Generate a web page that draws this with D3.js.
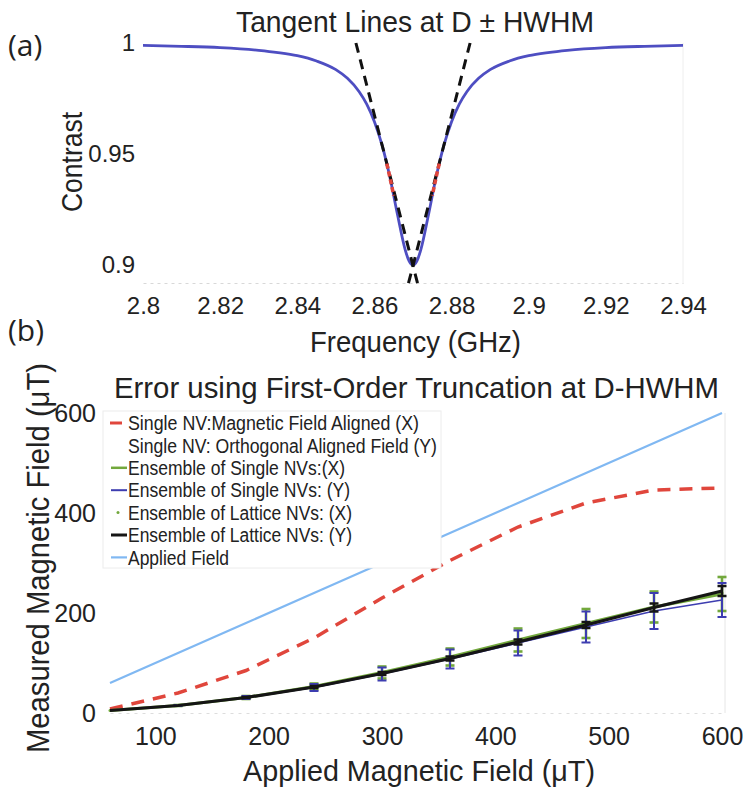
<!DOCTYPE html>
<html>
<head>
<meta charset="utf-8">
<script src="https://cdn.jsdelivr.net/npm/d3@7"></script>
<style>
  body { margin: 0; background: #fff; }
  svg text { font-family: "Liberation Sans", Arial, sans-serif; fill: #222; }
</style>
</head>
<body>
<div id="chart"></div>
<script>
// panel (a): resonance dip
var freq = [2.80, 2.81, 2.82, 2.83, 2.835, 2.84, 2.845, 2.85, 2.853, 2.856, 2.858, 2.86, 2.862, 2.864, 2.866, 2.868, 2.869, 2.87,
            2.871, 2.872, 2.874, 2.876, 2.878, 2.88, 2.882, 2.884, 2.887, 2.89, 2.895, 2.9, 2.905, 2.91, 2.92, 2.93, 2.94]
var contrast = [0.9989, 0.9985, 0.9979, 0.9967, 0.9957, 0.9943, 0.9919, 0.9880, 0.9841, 0.9782, 0.9725, 0.9646, 0.9539, 0.9397, 0.9226, 0.9068, 0.9018, 0.9000,
                0.9018, 0.9068, 0.9226, 0.9397, 0.9539, 0.9646, 0.9725, 0.9782, 0.9841, 0.9880, 0.9919, 0.9943, 0.9957, 0.9967, 0.9979, 0.9985, 0.9989]
// tangent lines at D - HWHM and D + HWHM (end points)
var tanLeft = [[2.8552, 1.0], [2.8716, 0.889]]
var tanRight = [[2.8848, 1.0], [2.8684, 0.889]]
// red marks where the tangents touch
var touchLeft = [[2.8632, 0.9457], [2.8638, 0.9412], [2.8644, 0.9364], [2.865, 0.9313]]
var touchRight = [[2.8768, 0.9457], [2.8762, 0.9412], [2.8756, 0.9364], [2.875, 0.9313]]
var freqTicks = [2.8, 2.82, 2.84, 2.86, 2.88, 2.9, 2.92, 2.94]
var contrastTicks = [0.9, 0.95, 1]

// panel (b): measured vs applied field
var applied = [60, 120, 180, 240, 300, 360, 420, 480, 540, 600]
var singleX = [8, 40, 85, 150, 230, 305, 372, 420, 446, 450]
var ensSingleX = [5, 15, 31, 53, 81, 112, 146, 179, 212, 238]
var ensSingleY = [5, 15, 31, 51, 78, 108, 140, 172, 204, 226]
var ensLatticeX = [5, 15, 31, 52, 80, 110, 143, 177, 210, 240]
var ensLatticeY = [5, 15, 31, 52, 79, 109, 142, 176, 211, 244]
var errSingleX = [0, 1, 3, 6, 12, 17, 23, 29, 31, 34]
var errSingleY = [0, 1, 3, 7, 13, 19, 25, 31, 36, 34]
var errLatticeY = [0, 0, 1, 2, 3, 4, 5, 6, 8, 10]
var fieldTicks = [100, 200, 300, 400, 500, 600]
var measTicks = [0, 200, 400, 600]
var legendLabels = ['Single NV:Magnetic Field Aligned (X)', 'Single NV: Orthogonal Aligned Field (Y)',
  'Ensemble of Single NVs:(X)', 'Ensemble of Single NVs: (Y)', 'Ensemble of Lattice NVs: (X)',
  'Ensemble of Lattice NVs: (Y)', 'Applied Field']
var legendWidths = [291, 309, 217, 222, 224, 224, 101]

var W = 743, H = 789
var svg = d3.select('#chart').append('svg').attr('width', W).attr('height', H)

var colors = {dip: '#4e4ec2', red: '#e0463c', green: '#72a83c', blue: '#3d3db0', black: '#151515', sky: '#80b8f2'}

// squeeze a label to the width it has in the figure
function label(g, txt, size, len) {
  return g.append('text').style('font-size', size + 'px')
    .attr('textLength', len).attr('lengthAdjust', 'spacingAndGlyphs').text(txt)
}

// ---------- panel (a)
var xA = d3.scaleLinear().domain([2.8, 2.94]).range([143, 683])
var yA = d3.scaleLinear().domain([0.892, 1.0]).range([283, 43])

var gA = svg.append('g')
gA.append('g').attr('transform', 'translate(0,283)')
  .call(d3.axisBottom(xA).tickValues(freqTicks).tickSize(0).tickPadding(14).tickFormat(d3.format('~g')))
  .call(function (g) { g.select('.domain').attr('stroke', '#d8d8d8').attr('stroke-dasharray', '3,4') })
  .selectAll('text').style('font-size', '24px')
gA.append('g').attr('transform', 'translate(143,0)')
  .call(d3.axisLeft(yA).tickValues(contrastTicks).tickSize(0).tickPadding(8).tickFormat(d3.format('~g')))
  .call(function (g) { g.select('.domain').remove() })
  .selectAll('text').style('font-size', '24px')
gA.append('line').attr('x1', 683).attr('x2', 683).attr('y1', 43).attr('y2', 283)
  .attr('stroke', '#eee')

var lineA = d3.line().x(function (d) { return xA(d[0]) }).y(function (d) { return yA(d[1]) })
gA.append('path').datum(d3.zip(freq, contrast)).attr('d', lineA.curve(d3.curveMonotoneX))
  .attr('fill', 'none').attr('stroke', colors.dip).attr('stroke-width', 2.8)
lineA.curve(d3.curveLinear)
;[tanLeft, tanRight].forEach(function (t) {
  gA.append('path').datum(t).attr('d', lineA).attr('fill', 'none')
    .attr('stroke', '#111').attr('stroke-width', 3).attr('stroke-dasharray', '10,7')
})
;[touchLeft, touchRight].forEach(function (t) {
  gA.append('path').datum(t).attr('d', lineA).attr('fill', 'none')
    .attr('stroke', colors.red).attr('stroke-width', 3.6).attr('stroke-dasharray', '5,3')
})

label(gA, 'Tangent Lines at D \u00b1 HWHM', 29, 358).attr('x', 236).attr('y', 32)
label(gA, 'Contrast', 29, 100).attr('transform', 'translate(82,212) rotate(-90)')
label(gA, 'Frequency (GHz)', 29, 211).attr('x', 310).attr('y', 352)
svg.append('text').attr('x', 8).attr('y', 56).style('font-family', 'Open Sans, sans-serif')
  .style('font-size', '30px').text('(a)')
svg.append('text').attr('x', 8).attr('y', 341).style('font-family', 'Open Sans, sans-serif')
  .style('font-size', '30px').text('(b)')

// ---------- panel (b)
var xB = d3.scaleLinear().domain([60, 600]).range([110, 722])
var yB = d3.scaleLinear().domain([0, 600]).range([713, 413])

var gB = svg.append('g')
gB.append('g').attr('transform', 'translate(0,713)')
  .call(d3.axisBottom(xB).tickValues(fieldTicks).tickSize(0).tickPadding(14))
  .call(function (g) { g.select('.domain').attr('stroke', '#ddd').attr('stroke-dasharray', '3,5') })
  .selectAll('text').style('font-size', '25px')
gB.append('g').attr('transform', 'translate(108,0)')
  .call(d3.axisLeft(yB).tickValues(measTicks).tickSize(0).tickPadding(12))
  .call(function (g) { g.select('.domain').remove() })
  .selectAll('text').style('font-size', '25px')
gB.append('line').attr('x1', 725).attr('x2', 725).attr('y1', 413).attr('y2', 713).attr('stroke', '#e6e6e6')

var lineB = d3.line().x(function (d) { return xB(d[0]) }).y(function (d) { return yB(d[1]) })

gB.append('path').datum(d3.zip(applied, applied)).attr('d', lineB)
  .attr('fill', 'none').attr('stroke', colors.sky).attr('stroke-width', 2.2)
gB.append('path').datum(d3.zip(applied, singleX)).attr('d', lineB)
  .attr('fill', 'none').attr('stroke', colors.red).attr('stroke-width', 3.5).attr('stroke-dasharray', '13,9')

function errorBars(vals, errs, color, width, cap) {
  var g = gB.append('g').attr('stroke', color).attr('stroke-width', width)
  applied.forEach(function (a, i) {
    if (errs[i] < 1) return
    var x = xB(a), y0 = yB(vals[i] - errs[i]), y1 = yB(vals[i] + errs[i])
    g.append('line').attr('x1', x).attr('x2', x).attr('y1', y0).attr('y2', y1)
    g.append('line').attr('x1', x - cap).attr('x2', x + cap).attr('y1', y0).attr('y2', y0)
    g.append('line').attr('x1', x - cap).attr('x2', x + cap).attr('y1', y1).attr('y2', y1)
  })
}
errorBars(ensSingleX, errSingleX, colors.green, 2.6, 4.5)
gB.append('path').datum(d3.zip(applied, ensSingleX)).attr('d', lineB)
  .attr('fill', 'none').attr('stroke', colors.green).attr('stroke-width', 3)
errorBars(ensSingleY, errSingleY, colors.blue, 2, 4.5)
gB.append('path').datum(d3.zip(applied, ensSingleY)).attr('d', lineB)
  .attr('fill', 'none').attr('stroke', colors.blue).attr('stroke-width', 1.6)
gB.selectAll('.latx').data(d3.zip(applied, ensLatticeX)).enter().append('circle')
  .attr('cx', function (d) { return xB(d[0]) }).attr('cy', function (d) { return yB(d[1]) })
  .attr('r', 1.5).attr('fill', colors.green)
errorBars(ensLatticeY, errLatticeY, colors.black, 2.5, 4.5)
gB.append('path').datum(d3.zip(applied, ensLatticeY)).attr('d', lineB)
  .attr('fill', 'none').attr('stroke', colors.black).attr('stroke-width', 3.2)

// legend
var leg = gB.append('g').attr('transform', 'translate(103,411)')
leg.append('rect').attr('width', 338).attr('height', 157).attr('fill', '#fff').attr('stroke', '#ececec')
var legStyle = [
  {c: colors.red, w: 3, x1: 7, x2: 19},
  null,
  {c: colors.green, w: 2.5, x1: 8, x2: 24},
  {c: colors.blue, w: 2, x1: 8, x2: 24},
  'dot',
  {c: colors.black, w: 3, x1: 8, x2: 24},
  {c: colors.sky, w: 2.2, x1: 8, x2: 24}
]
legendLabels.forEach(function (lab, i) {
  var y = 12 + i * 22.4
  var s = legStyle[i]
  if (s === 'dot') {
    leg.append('circle').attr('cx', 15).attr('cy', y).attr('r', 1.5).attr('fill', colors.green)
  } else if (s) {
    leg.append('line').attr('x1', s.x1).attr('x2', s.x2).attr('y1', y).attr('y2', y)
      .attr('stroke', s.c).attr('stroke-width', s.w)
  }
  label(leg, lab, 20, legendWidths[i]).attr('x', 25).attr('y', y).attr('dy', '0.36em')
})

label(gB, 'Error using First-Order Truncation at D-HWHM', 30, 605).attr('x', 114).attr('y', 398)
label(gB, 'Measured Magnetic Field (\u03bcT)', 31, 390).attr('transform', 'translate(49,753) rotate(-90)')
label(gB, 'Applied Magnetic Field (\u03bcT)', 30, 352).attr('x', 243).attr('y', 781)
</script>
</body>
</html>
